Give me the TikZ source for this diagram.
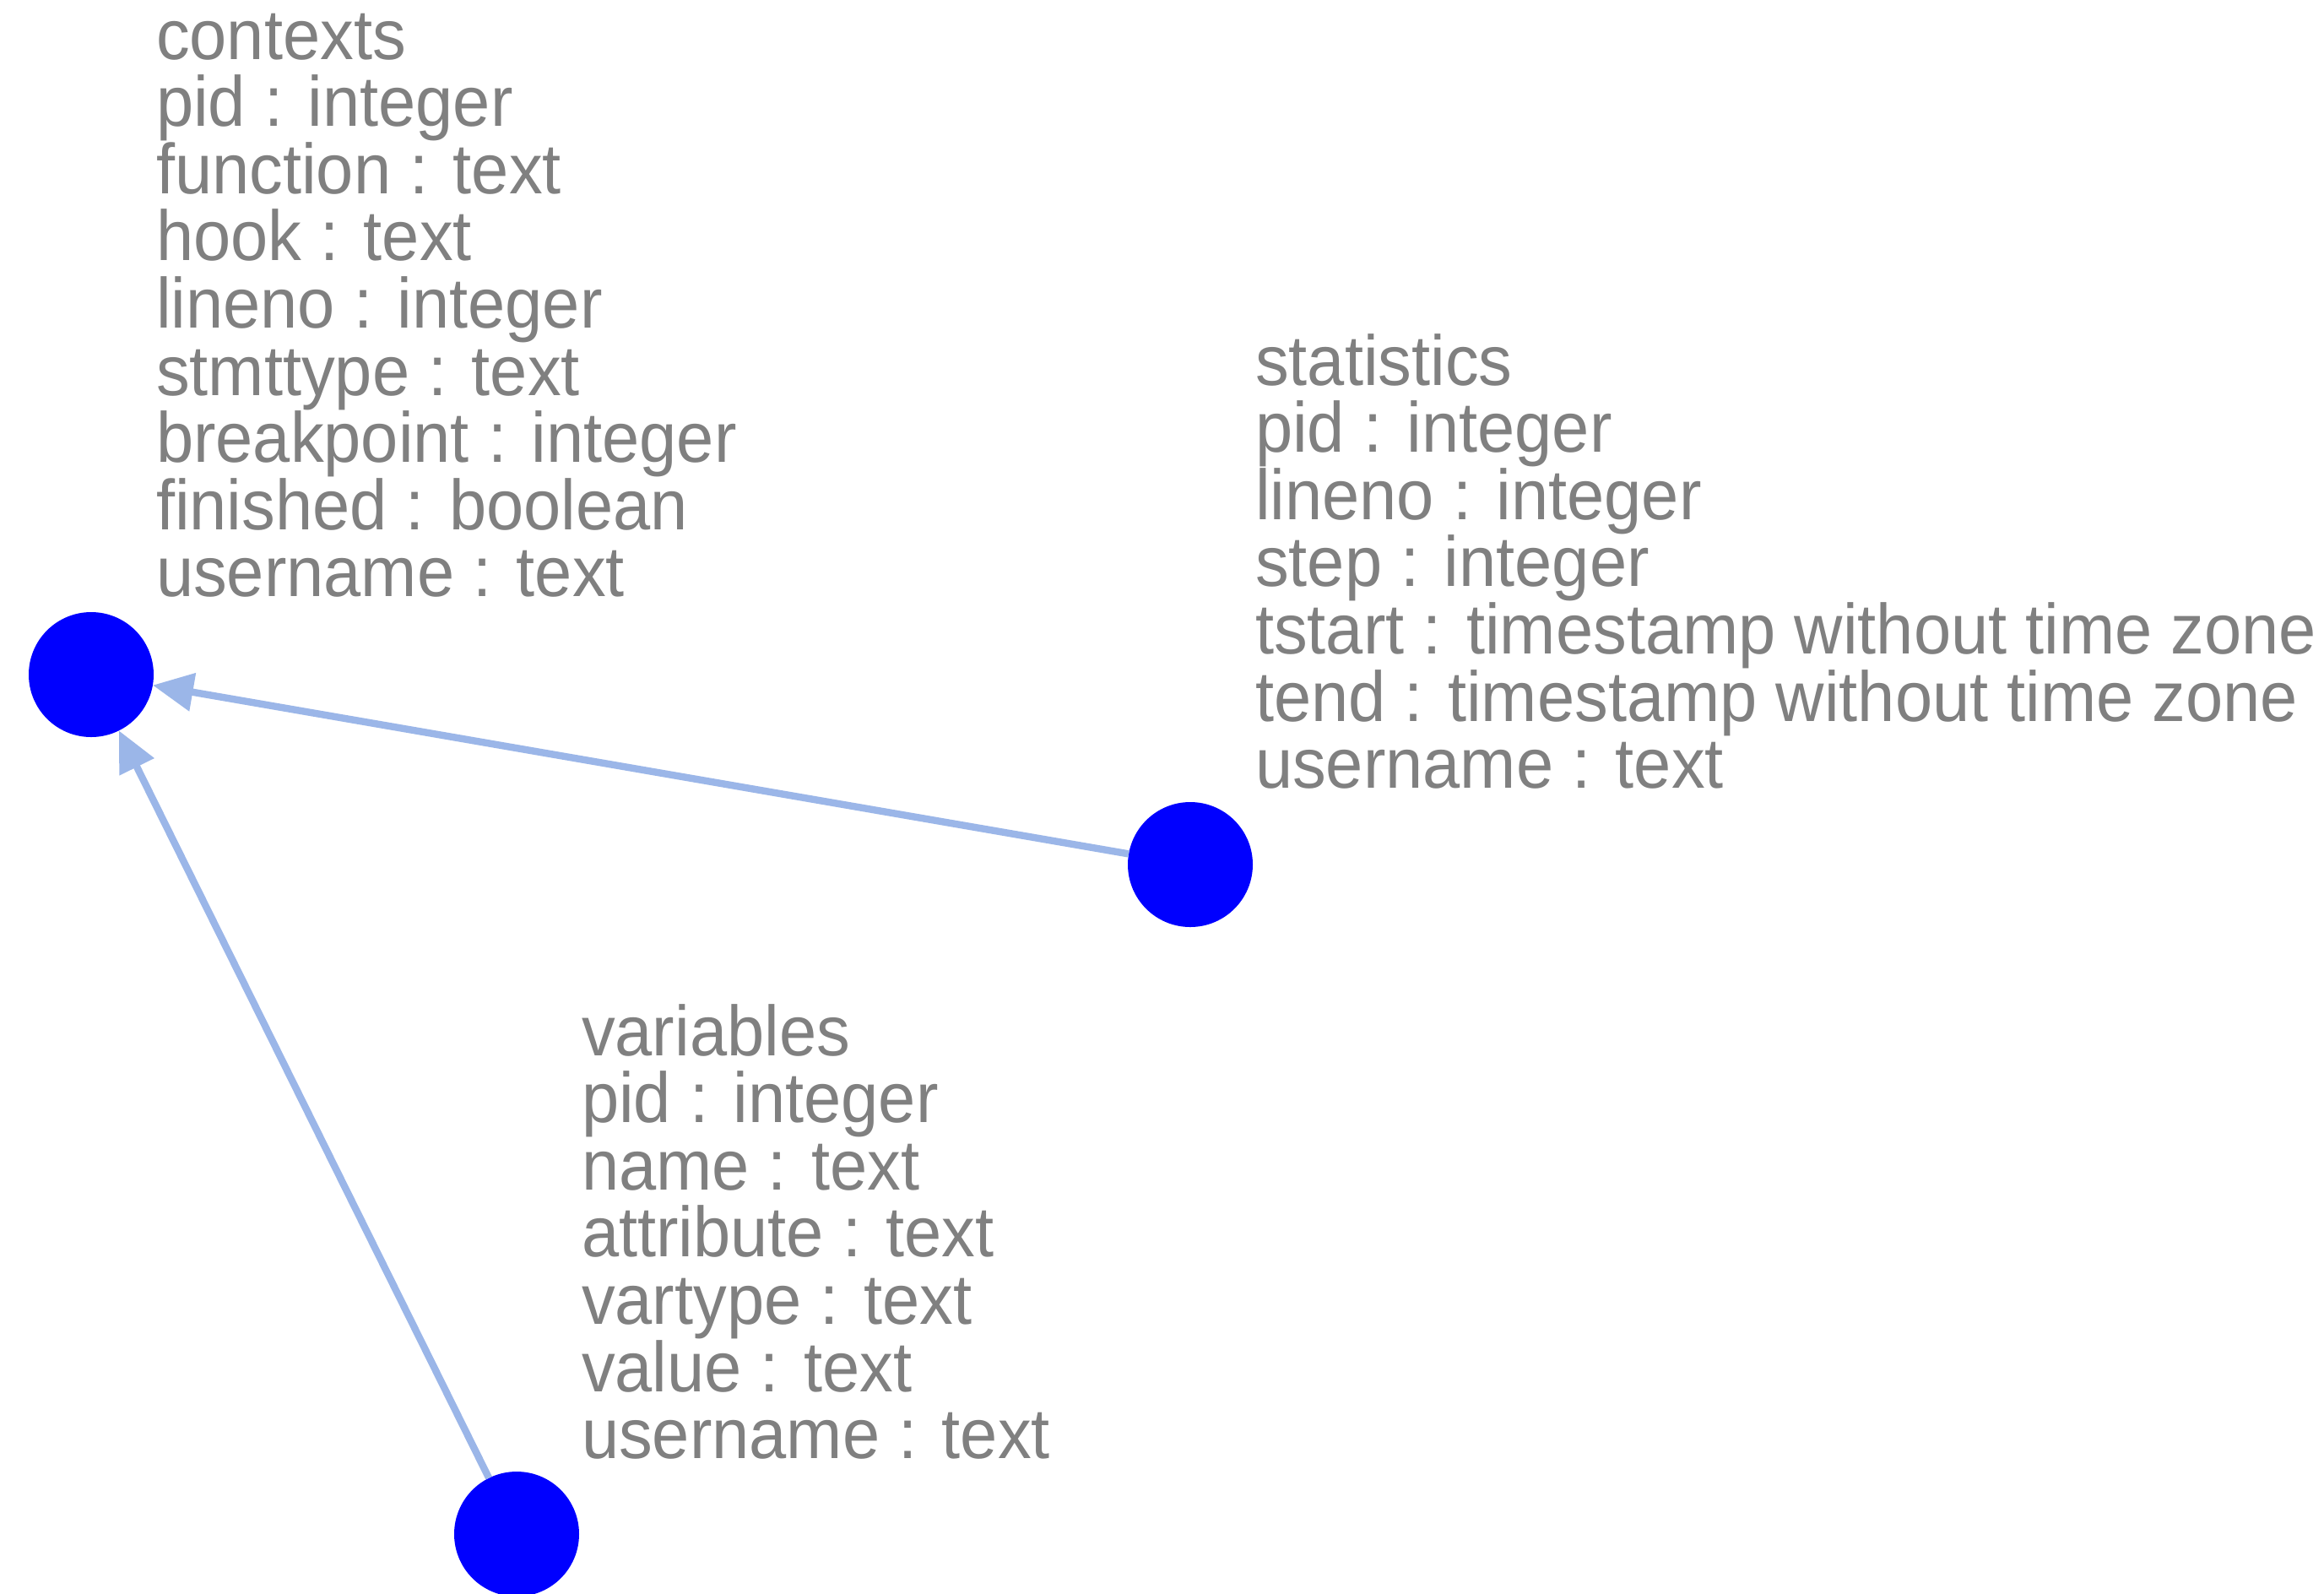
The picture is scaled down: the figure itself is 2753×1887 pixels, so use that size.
\documentclass[tikz,border=0pt]{standalone}
\usepackage{fontspec}
\setmainfont[FakeStretch=0.946]{Liberation Sans}
\usetikzlibrary{arrows.meta}
\definecolor{labelgray}{RGB}{128,128,128}
\definecolor{edgeblue}{RGB}{155,182,232}
\definecolor{nodeblue}{RGB}{0,0,255}
\newcommand{\fieldlines}[1]{\vtop{\baselineskip=19.9pt\lineskiplimit=-100pt\halign{##\hfil\cr#1\crcr}}}
\begin{document}
\begin{tikzpicture}[x=0.25pt,y=-0.25pt,
  tablabel/.style={anchor=base west, inner sep=0pt, outer sep=0pt, text=labelgray,
    font=\fontsize{21}{19.9}\selectfont},
  entity/.style={circle, fill=nodeblue, draw=none, minimum size=37pt, inner sep=0pt, outer sep=0pt},
  fk/.style={draw=edgeblue, line width=2.1pt, -{Triangle[length=12pt,width=11pt]}}]
\useasboundingbox (0,0) rectangle (2753,1887);
\fill[white] (0,0) rectangle (2753,1887);

\node[entity] (ctx) at (108,799) {};
\node[entity] (stat) at (1410,1024) {};
\node[entity] (var) at (612,1817) {};

\node[tablabel] (ctxlabel) at (185,70) {\fieldlines{contexts\cr pid : integer\cr function : text\cr hook : text\cr lineno : integer\cr stmttype : text\cr breakpoint : integer\cr finished : boolean\cr username : text}};
\node[tablabel] (statlabel) at (1487,456) {\fieldlines{statistics\cr pid : integer\cr lineno : integer\cr step : integer\cr tstart : timestamp without time zone\cr tend : timestamp without time zone\cr username : text}};
\node[tablabel] (varlabel) at (689,1250) {\fieldlines{variables\cr pid : integer\cr name : text\cr attribute : text\cr vartype : text\cr value : text\cr username : text}};

\draw[fk] (stat) -- (ctx);
\draw[fk] (var) -- (ctx);
\end{tikzpicture}
\end{document}
